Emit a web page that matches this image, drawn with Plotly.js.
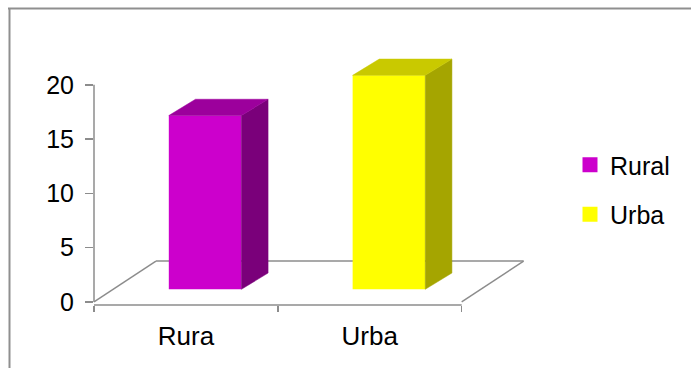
<!DOCTYPE html>
<html>
<head>
<meta charset="utf-8">
<script src="https://cdn.plot.ly/plotly-3.0.1.min.js"></script>
<style>
  html, body { margin: 0; padding: 0; background: #ffffff; }
  #chart { width: 691px; height: 368px; }
</style>
</head>
<body>
<div id="chart"></div>
<script>
// Chart data
const categories = ['Rura', 'Urba'];
const seriesNames = ['Rural', 'Urba'];
const values = [16, 19.7];
const yTickValues = [0, 5, 10, 15, 20];

// Face colours: front, top (lit) and side (shaded)
const frontColors = ['#CC00CC', '#FFFF00'];
const topColors = ['#9C009C', '#C9C900'];
const sideColors = ['#7A007A', '#A5A500'];

// Oblique projection of the depth direction, in axis units
const FLOOR_DX = 0.337, FLOOR_DY = 3.76;   // full floor depth
const BAR_FRONT = 0.31;                     // depth fraction of the bar front face
const BAR_DX = 0.145, BAR_DY = 1.5;         // depth of a bar
const BAR_W = 0.395;                        // bar width in category units

const W = 691, H = 368;
const M = { l: 94, r: 165, t: 50, b: 63 };
const PW = W - M.l - M.r, PH = H - M.t - M.b;
const LINE = '#8c8c8c';
const FONT = 'Liberation Sans, Arial, sans-serif';

// pixel -> paper helpers for the chart frame and legend placement
const px2x = px => (px - M.l) / PW;
const px2y = py => (H - M.b - py) / PH;

const traces = [];
categories.forEach((cat, i) => {
  const xc = i + BAR_FRONT * FLOOR_DX;
  const base = BAR_FRONT * FLOOR_DY;
  const top = base + values[i];
  const xl = xc - BAR_W / 2, xr = xc + BAR_W / 2;

  // front face
  traces.push({
    type: 'bar', x: [xc], y: [values[i]], base: [base], width: [BAR_W],
    marker: { color: frontColors[i], line: { width: 0 } },
    showlegend: false, hoverinfo: 'skip'
  });
  // right side face
  traces.push({
    type: 'scatter', mode: 'lines',
    x: [xr, xr + BAR_DX, xr + BAR_DX, xr, xr],
    y: [base, base + BAR_DY, top + BAR_DY, top, base],
    fill: 'toself', fillcolor: sideColors[i],
    line: { width: 0.5, color: sideColors[i] },
    showlegend: false, hoverinfo: 'skip'
  });
  // top face
  traces.push({
    type: 'scatter', mode: 'lines',
    x: [xl, xr, xr + BAR_DX, xl + BAR_DX, xl],
    y: [top, top, top + BAR_DY, top + BAR_DY, top],
    fill: 'toself', fillcolor: topColors[i],
    line: { width: 0.5, color: topColors[i] },
    showlegend: false, hoverinfo: 'skip'
  });
});

// legend entries
seriesNames.forEach((name, i) => {
  traces.push({
    type: 'scatter', mode: 'markers', x: [null], y: [null],
    name: name, legendgroup: name,
    marker: { symbol: 'square', size: 15, color: frontColors[i] },
    hoverinfo: 'skip'
  });
});

const floorLine = { color: LINE, width: 1.5 };
const shapes = [
  // chart frame
  { type: 'line', xref: 'paper', yref: 'paper', x0: px2x(8), x1: px2x(W), y0: px2y(8.5), y1: px2y(8.5),
    line: { color: '#8f8f8f', width: 2 } },
  { type: 'line', xref: 'paper', yref: 'paper', x0: px2x(9.5), x1: px2x(9.5), y0: px2y(8), y1: px2y(H),
    line: { color: '#8f8f8f', width: 2 } },
  // value axis
  { type: 'line', xref: 'paper', yref: 'y', x0: 0, x1: 0, y0: 0, y1: yTickValues[yTickValues.length - 1],
    line: floorLine },
  // floor outline
  { type: 'line', layer: 'below', xref: 'x', yref: 'paper', x0: -0.5, x1: categories.length - 0.5, y0: 0, y1: 0,
    line: floorLine },
  { type: 'line', layer: 'below', xref: 'x', yref: 'y', x0: -0.5, x1: -0.5 + FLOOR_DX, y0: 0, y1: FLOOR_DY,
    line: floorLine },
  { type: 'line', layer: 'below', xref: 'x', yref: 'y', x0: -0.5 + FLOOR_DX, x1: categories.length - 0.5 + FLOOR_DX,
    y0: FLOOR_DY, y1: FLOOR_DY, line: floorLine },
  { type: 'line', layer: 'below', xref: 'x', yref: 'y', x0: categories.length - 0.5, x1: categories.length - 0.5 + FLOOR_DX,
    y0: 0, y1: FLOOR_DY, line: floorLine }
];

const boundaries = [];
for (let k = 0; k <= categories.length; k++) boundaries.push(k - 0.5);

const layout = {
  width: W, height: H,
  margin: M,
  paper_bgcolor: '#ffffff', plot_bgcolor: '#ffffff',
  font: { family: FONT, color: '#000000' },
  barmode: 'overlay',
  showlegend: true,
  xaxis: {
    range: [-0.5, 1.85], fixedrange: true,
    showgrid: false, zeroline: false, showline: false,
    tickmode: 'array', tickvals: categories.map((c, i) => i), ticktext: categories,
    ticks: 'outside', ticklen: 8, tickcolor: 'rgba(0,0,0,0)',
    tickfont: { size: 26, family: FONT, color: '#000' },
    minor: { tickmode: 'array', tickvals: boundaries, ticks: 'outside', ticklen: 6,
             tickcolor: LINE, tickwidth: 1.5, showgrid: false }
  },
  yaxis: {
    range: [-0.28, 23.2], fixedrange: true,
    showgrid: false, zeroline: false, showline: false,
    tickmode: 'array', tickvals: yTickValues,
    ticks: 'outside', ticklen: 8, tickcolor: LINE, tickwidth: 1.5,
    ticklabelstandoff: 6,
    tickfont: { size: 25, family: FONT, color: '#000' }
  },
  legend: {
    x: px2x(570), xanchor: 'left', y: px2y(189.5), yanchor: 'middle',
    font: { size: 25, family: FONT, color: '#000' },
    tracegroupgap: 14, bgcolor: 'rgba(0,0,0,0)', borderwidth: 0
  },
  shapes: shapes
};

Plotly.newPlot('chart', traces, layout, { staticPlot: true, displayModeBar: false });
</script>
</body>
</html>
